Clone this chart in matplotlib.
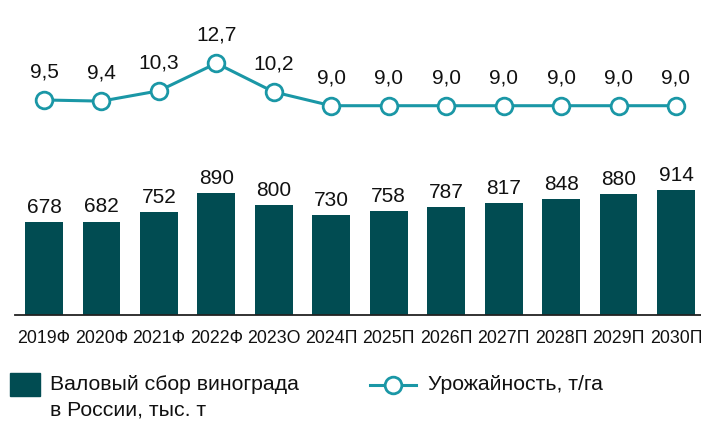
import matplotlib.pyplot as plt

plt.rcParams['font.family'] = ['Liberation Sans', 'DejaVu Sans']

years = ['2019Ф', '2020Ф', '2021Ф', '2022Ф', '2023О', '2024П',
         '2025П', '2026П', '2027П', '2028П', '2029П', '2030П']
harvest = [678, 682, 752, 890, 800, 730, 758, 787, 817, 848, 880, 914]
yield_t_ha = [9.5, 9.4, 10.3, 12.7, 10.2, 9.0, 9.0, 9.0, 9.0, 9.0, 9.0, 9.0]

bar_color = '#014c52'
line_color = '#1a97a6'

W, H = 701, 421
fig = plt.figure(figsize=(W / 100, H / 100), dpi=100)
# axes: baseline at y=315 px, top at y=40 px
ax = fig.add_axes([15.3 / W, (H - 315) / H, 689.4 / W, 275 / H])
x = list(range(len(years)))

ax.bar(x, harvest, width=0.66, color=bar_color, zorder=2)
ax.set_xlim(-0.5, 11.5)
ax.set_ylim(0, 2006)
for xi, v in zip(x, harvest):
    ax.annotate(str(v), (xi, v), xytext=(0, 6.5), textcoords='offset points',
                ha='center', va='baseline', fontsize=15, color='#111111')

for s in ['top', 'right', 'left']:
    ax.spines[s].set_visible(False)
ax.spines['bottom'].set_color('#222222')
ax.spines['bottom'].set_linewidth(1.3)
ax.set_yticks([])
ax.set_xticks(x)
ax.set_xticklabels(years, fontsize=12.8, color='#111111')
ax.tick_params(axis='x', length=0, pad=11)

# yield line on its own scale
ax2 = ax.twinx()
ax2.set_ylim(-9.25, 14.73)
ax2.axis('off')
ax2.plot(x, yield_t_ha, color=line_color, lw=2.2, marker='o', ms=12,
         mfc='white', mec=line_color, mew=2, zorder=3)
for xi, v in zip(x, yield_t_ha):
    ax2.annotate(f'{v:.1f}'.replace('.', ','), (xi, v), xytext=(0, 16.3),
                 textcoords='offset points', ha='center', va='baseline',
                 fontsize=15, color='#111111')

# legend drawn in pixel coordinates
lax = fig.add_axes([0, 0, 1, 1])
lax.set_xlim(0, W)
lax.set_ylim(H, 0)
lax.axis('off')
lax.add_patch(plt.Rectangle((10, 373), 30, 23, color=bar_color))
lax.text(50, 385, 'Валовый сбор винограда', fontsize=15.3, va='center', color='#111111')
lax.text(50, 410, 'в России, тыс. т', fontsize=15.3, va='center', color='#111111')
lax.plot([370, 416], [385, 385], color=line_color, lw=2.2)
lax.plot([393], [385], marker='o', ms=12, mfc='white', mec=line_color, mew=2)
lax.text(428, 385, 'Урожайность, т/га', fontsize=15.3, va='center', color='#111111')

fig.savefig('out.png', dpi=100)
